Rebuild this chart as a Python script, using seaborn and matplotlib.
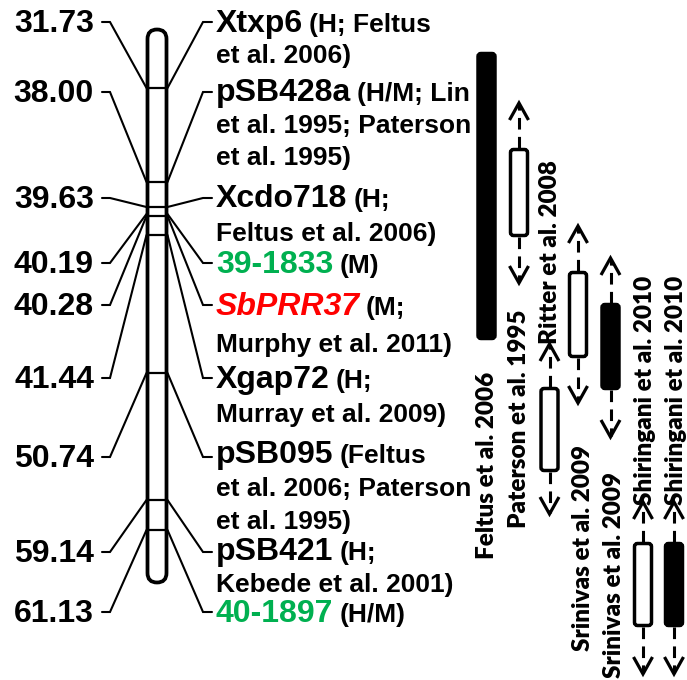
import numpy as np
import pandas as pd
import matplotlib
matplotlib.use("Agg")
import matplotlib.pyplot as plt
import seaborn as sns
from matplotlib.patches import FancyBboxPatch

# ---------------- data ----------------
positions_cM = ["31.73", "38.00", "39.63", "40.19", "40.28", "41.44", "50.74", "59.14", "61.13"]
markers = ["Xtxp6", "pSB428a", "Xcdo718", "39-1833", "SbPRR37", "Xgap72", "pSB095", "pSB421", "40-1897"]
marker_notes = [
    ["(H; Feltus", "et al. 2006)"],
    ["(H/M; Lin", "et al. 1995; Paterson", "et al. 1995)"],
    ["(H;", "Feltus et al. 2006)"],
    ["(M)"],
    ["(M;", "Murphy et al. 2011)"],
    ["(H;", "Murray et al. 2009)"],
    ["(Feltus", "et al. 2006; Paterson", "et al. 1995)"],
    ["(H;", "Kebede et al. 2001)"],
    ["(H/M)"],
]
marker_kind = ["ref", "ref", "ref", "new", "gene", "ref", "ref", "ref", "new"]

studies = ["Feltus et al. 2006", "Paterson et al. 1995", "Ritter et al. 2008",
           "Srinivas et al. 2009", "Srinivas et al. 2009",
           "Shiringani et al. 2010", "Shiringani et al. 2010"]
study_filled = [True, False, False, False, True, False, True]
# interval extents along the map (diagram units, top -> bottom)
qtl_top = [52, 148, 387, 271, 303, 542, 542]
qtl_bottom = [340, 237, 472, 358, 390, 627, 627]
ci_top = [None, 103, 344, 226, 258, 502, 502]
ci_bottom = [None, 283, 514, 403, 437, 674, 674]

# ---------------- layout ----------------
label_y = [22, 92, 198, 263, 305, 378, 457, 552, 612]
band_hit = [88, 182, 207, 214, 216, 235, 373, 500, 530]
bands = [88, 182, 207, 216, 235, 373, 500, 530]
first_base = [32, 101, 207, 273, 315, 388, 463, 560, 622]
line_gap = [31, 32, 34, 0, 37, 34, 33, 32, 0]
col_x = [486.5, 519, 549.5, 578, 610.5, 643, 674]
lab_x = [487, 519, 550, 583, 614, 645, 676]
lab_bottom = [559, 528, 344, 651, 678, 505, 505]

kind_color = {"ref": "black", "new": "#00B050", "gene": "#FF0000"}
BIG, SMALL, ROT = 23, 19, 17.5

sns.set_theme(style="white")
plt.rcParams['font.family'] = ['Liberation Sans', 'DejaVu Sans']

W, H = 687, 680
fig = plt.figure(figsize=(W / 100, H / 100), dpi=100)
ax = fig.add_axes([0, 0, 1, 1])
ax.set_xlim(0, W)
ax.set_ylim(H, 0)
ax.axis("off")

# chromosome
cx0, cx1 = 147.5, 166.5
chrom = FancyBboxPatch((cx0, 29.5), cx1 - cx0, 553,
                       boxstyle="round,pad=0,rounding_size=9.5",
                       fc="white", ec="black", lw=2.7, zorder=3)
ax.add_patch(chrom)
for b in bands:
    ax.plot([cx0, cx1], [b, b], color="black", lw=1.6, zorder=4)

# connectors and map positions
df = pd.DataFrame({"pos": positions_cM, "marker": markers, "y": label_y, "hit": band_hit})
for _, r in df.iterrows():
    ax.plot([102, 110, cx0 - 1], [r.y, r.y, r.hit], color="black", lw=1.5,
            solid_joinstyle="miter", zorder=2)
    ax.plot([cx1 + 1, 203, 212], [r.hit, r.y, r.y], color="black", lw=1.5,
            solid_joinstyle="miter", zorder=2)
    ax.text(94, r.y + 10, r.pos, ha="right", va="baseline", fontsize=BIG,
            fontweight="bold", color="black")

fig.canvas.draw()
renderer = fig.canvas.get_renderer()
inv = ax.transData.inverted()
for i, m in enumerate(markers):
    col = kind_color[marker_kind[i]]
    style = "italic" if marker_kind[i] == "gene" else "normal"
    t = ax.text(216, first_base[i], m, ha="left", va="baseline", fontsize=BIG,
                fontweight="bold", color=col, fontstyle=style)
    bb = t.get_window_extent(renderer=renderer)
    xr = inv.transform((bb.x1, bb.y0))[0]
    notes = marker_notes[i]
    ax.text(xr + 6, first_base[i], notes[0], ha="left", va="baseline",
            fontsize=SMALL, fontweight="bold", color="black")
    for k, ln in enumerate(notes[1:]):
        ax.text(216, first_base[i] + (k + 1) * line_gap[i], ln, ha="left",
                va="baseline", fontsize=SMALL, fontweight="bold", color="black")


def arrow_head(x, tip, direction):
    # direction -1: points up, +1: points down
    yb = tip - direction * 17
    ax.plot([x - 9.5, x, x + 9.5], [yb, tip, yb], color="black", lw=2.3,
            solid_joinstyle="miter", solid_capstyle="butt", zorder=5)


bw = 17
for i, s in enumerate(studies):
    x = col_x[i]
    top, bot = qtl_top[i], qtl_bottom[i]
    fc = "black" if study_filled[i] else "white"
    p = FancyBboxPatch((x - bw / 2, top + 1.5), bw, bot - top - 3,
                       boxstyle="round,pad=0,rounding_size=3",
                       fc=fc, ec="black", lw=2.5, zorder=4)
    ax.add_patch(p)
    if ci_top[i] is not None:
        ax.plot([x, x], [top, ci_top[i] + 1], color="black", lw=2.2,
                linestyle=(0, (3.8, 2.4)), zorder=3)
        ax.plot([x, x], [bot, ci_bottom[i] - 1], color="black", lw=2.2,
                linestyle=(0, (3.8, 2.4)), zorder=3)
        arrow_head(x, ci_top[i], -1)
        arrow_head(x, ci_bottom[i], +1)
    ax.text(lab_x[i], lab_bottom[i], s, rotation=90, ha="center", va="bottom",
            fontsize=ROT, fontweight="heavy", color="black",
            family=["Lato", "DejaVu Sans"])

fig.savefig("out.png", dpi=100)
